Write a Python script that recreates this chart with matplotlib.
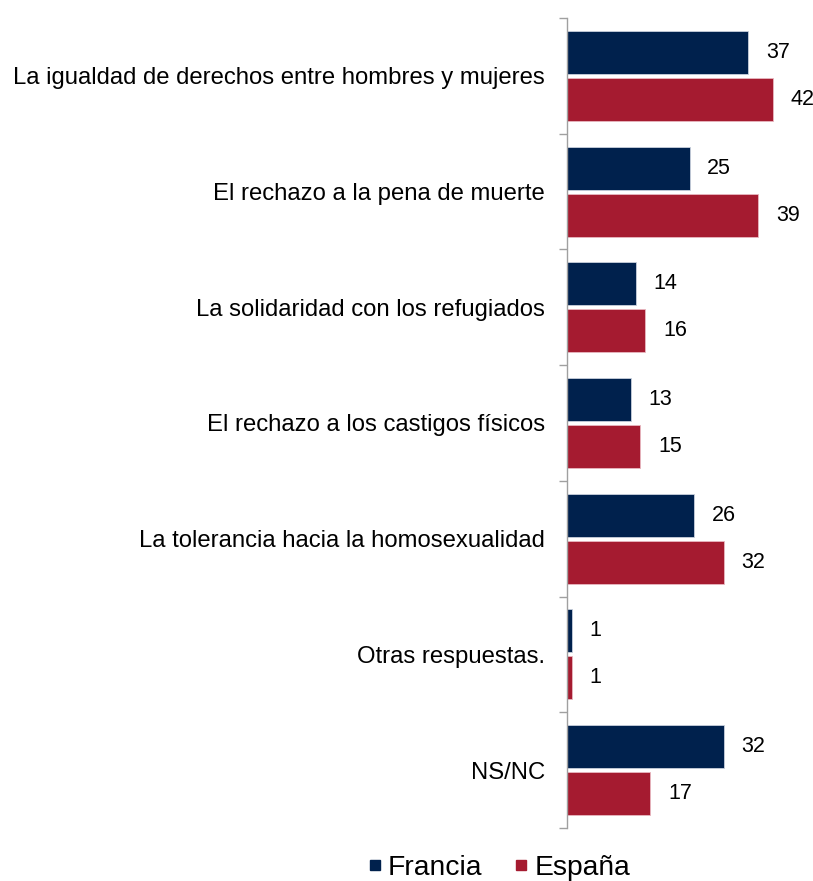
import matplotlib.pyplot as plt
import numpy as np
from matplotlib.lines import Line2D

plt.rcParams['font.family'] = ['Liberation Sans', 'DejaVu Sans']

categories = [
    'La igualdad de derechos entre hombres y mujeres',
    'El rechazo a la pena de muerte',
    'La solidaridad con los refugiados',
    'El rechazo a los castigos físicos',
    'La tolerancia hacia la homosexualidad',
    'Otras respuestas.',
    'NS/NC',
]
francia = [37, 25, 14, 13, 26, 1, 32]
espana = [42, 39, 16, 15, 32, 1, 17]
series_names = ['Francia', 'España']

navy = '#00214D'
crimson = '#A51B30'

fig = plt.figure(figsize=(8.13, 8.81), dpi=100)
ax = fig.add_axes([0.6974, 0.0602, 0.3014, 0.9194])

y = np.arange(len(categories))
h = 0.372
off = 0.203

ax.barh(y - off, francia, height=h, color=navy, edgecolor='#c8d0dc', linewidth=0.6)
ax.barh(y + off, espana, height=h, color=crimson, edgecolor='#e8b8c0', linewidth=0.6)

for yi, v in zip(y - off, francia):
    ax.text(v + 3.6, yi, str(v), va='center', ha='left', fontsize=15.5)
for yi, v in zip(y + off, espana):
    ax.text(v + 3.6, yi, str(v), va='center', ha='left', fontsize=15.5)

ax.set_xlim(0, 50)
ax.set_ylim(len(categories) - 0.5, -0.5)

ax.set_yticks(y)
ax.set_yticklabels(categories, fontsize=17.2)
ax.tick_params(axis='y', which='major', length=0, pad=15.8)
ax.set_yticks(np.arange(-0.5, len(categories)), minor=True)
ax.tick_params(axis='y', which='minor', length=6, color='#a0a0a0', width=1)
ax.set_xticks([])

for s in ['top', 'right', 'bottom']:
    ax.spines[s].set_visible(False)
ax.spines['left'].set_color('#a0a0a0')
ax.spines['left'].set_linewidth(1)

handles = [
    Line2D([], [], marker='s', linestyle='', color=navy, markersize=7.5),
    Line2D([], [], marker='s', linestyle='', color=crimson, markersize=7.5),
]
fig.legend(handles, series_names, loc='center', bbox_to_anchor=(0.611, 0.015),
           ncol=2, frameon=False, fontsize=20.3, handletextpad=0.05,
           columnspacing=1.0, handlelength=0.8)

fig.savefig('out.png', dpi=100)
